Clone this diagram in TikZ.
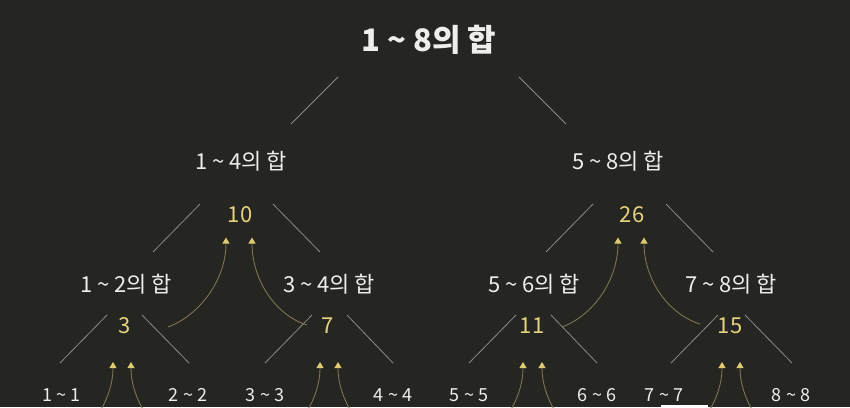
\documentclass[tikz,border=0pt]{standalone}
\usepackage{fontspec}
\setmainfont{Noto Sans CJK KR}
\usetikzlibrary{arrows.meta}
\definecolor{bg}{HTML}{252521}
\definecolor{txt}{HTML}{EEEEEC}
\definecolor{numc}{HTML}{E6D37E}
\definecolor{lnc}{HTML}{8A8A86}
\definecolor{cvc}{HTML}{7D7555}
\definecolor{tipc}{HTML}{DCCB72}
\newcommand{\tld}{\textasciitilde}
\tikzset{
  titlelbl/.style={anchor=base, text=txt, inner sep=0pt, font=\fontsize{31}{31}\selectfont\bfseries},
  rangelbl/.style={anchor=base, text=txt, inner sep=0pt, font=\fontsize{22}{22}\selectfont},
  sumlbl/.style={anchor=base, text=numc, inner sep=0pt, font=\fontsize{22}{22}\selectfont},
  leaflbl/.style={anchor=base, text=txt, inner sep=0pt, font=\fontsize{18}{18}\selectfont},
  treeedge/.style={draw=lnc, line width=0.8pt},
  sumarrow/.style={draw=cvc, line width=0.9pt, -{Triangle[width=7pt,length=6pt,color=tipc]}},
}
\begin{document}
\begin{tikzpicture}[x=1pt,y=-1pt]
\useasboundingbox (0,0) rectangle (850,407);
\fill[bg] (0,0) rectangle (850,407);
\clip (0,0) rectangle (850,407);

% labels
\node[titlelbl] (t18) at (429,51) {1 \tld\ 8의 합};
\node[rangelbl] (t14) at (241,169.3) {1 \tld\ 4의 합};
\node[rangelbl] (t58) at (618,169.3) {5 \tld\ 8의 합};
\node[sumlbl] (s10) at (240,222.7) {10};
\node[sumlbl] (s26) at (632,222.7) {26};
\node[rangelbl] (t12) at (126,292) {1 \tld\ 2의 합};
\node[rangelbl] (t34) at (329,292) {3 \tld\ 4의 합};
\node[rangelbl] (t56) at (534,292) {5 \tld\ 6의 합};
\node[rangelbl] (t78) at (731,292) {7 \tld\ 8의 합};
\node[sumlbl] (s3) at (124.5,333) {3};
\node[sumlbl] (s7) at (328,333) {7};
\node[sumlbl] (s11) at (532,333) {11};
\node[sumlbl] (s15) at (730,333) {15};
\node[leaflbl] (l1) at (61.7,401.7) {1 \tld\ 1};
\node[leaflbl] (l2) at (188,401.7) {2 \tld\ 2};
\node[leaflbl] (l3) at (265,401.7) {3 \tld\ 3};
\node[leaflbl] (l4) at (393,401.7) {4 \tld\ 4};
\node[leaflbl] (l5) at (469,401.7) {5 \tld\ 5};
\node[leaflbl] (l6) at (597,401.7) {6 \tld\ 6};
\node[leaflbl] (l7) at (664,401.7) {7 \tld\ 7};
\node[leaflbl] (l8) at (791,401.7) {8 \tld\ 8};

% tree edges
\coordinate (a1) at (338,77);  \coordinate (a2) at (291,124);
\coordinate (b1) at (519,77);  \coordinate (b2) at (566,124);
\coordinate (c1) at (200,204); \coordinate (c2) at (153,252);
\coordinate (d1) at (273,204); \coordinate (d2) at (320,252);
\coordinate (e1) at (593,204); \coordinate (e2) at (546,252);
\coordinate (f1) at (666,204); \coordinate (f2) at (713,252);
\coordinate (g1) at (107,315); \coordinate (g2) at (60,363);
\coordinate (h1) at (142,315); \coordinate (h2) at (189,363);
\coordinate (i1) at (312,315); \coordinate (i2) at (265,363);
\coordinate (j1) at (347,315); \coordinate (j2) at (393,363);
\coordinate (k1) at (516,315); \coordinate (k2) at (469,363);
\coordinate (m1) at (551,315); \coordinate (m2) at (597,363);
\coordinate (n1) at (718,315); \coordinate (n2) at (671,363);
\coordinate (o1) at (745,315); \coordinate (o2) at (792,363);
\foreach \p in {a,b,c,d,e,f,g,h,i,j,k,m,n,o}
  \draw[treeedge] (\p1) -- (\p2);

% upper sum arrows
\coordinate (u3) at (168,327);  \coordinate (v10a) at (226,237.5);
\coordinate (u7) at (307,325);  \coordinate (v10b) at (252,237.5);
\coordinate (u11) at (562,327); \coordinate (v26a) at (618,237.5);
\coordinate (u15) at (700,324); \coordinate (v26b) at (644,237.5);
\draw[sumarrow] (u3) .. controls +(32,-12) and +(0,42) .. (v10a);
\draw[sumarrow] (u7) .. controls +(-32,-10) and +(0,42) .. (v10b);
\draw[sumarrow] (u11) .. controls +(32,-12) and +(0,42) .. (v26a);
\draw[sumarrow] (u15) .. controls +(-32,-10) and +(0,42) .. (v26b);

% lower sum arrows (coming from below the frame)
\foreach \nm/\hl/\hr in {p3/113/131, p7/320/338, p11/523/542, p15/722/740}{
  \coordinate (\nm la) at (\hl-58,450); \coordinate (\nm lb) at (\hl,362);
  \coordinate (\nm ra) at (\hr+58,450); \coordinate (\nm rb) at (\hr,362);
  \draw[sumarrow] (\nm la) .. controls +(32,-12) and +(0,40) .. (\nm lb);
  \draw[sumarrow] (\nm ra) .. controls +(-32,-12) and +(0,40) .. (\nm rb);
}

% white bar at the bottom edge
\fill[white] (661,405) rectangle (708,407);
\end{tikzpicture}
\end{document}
